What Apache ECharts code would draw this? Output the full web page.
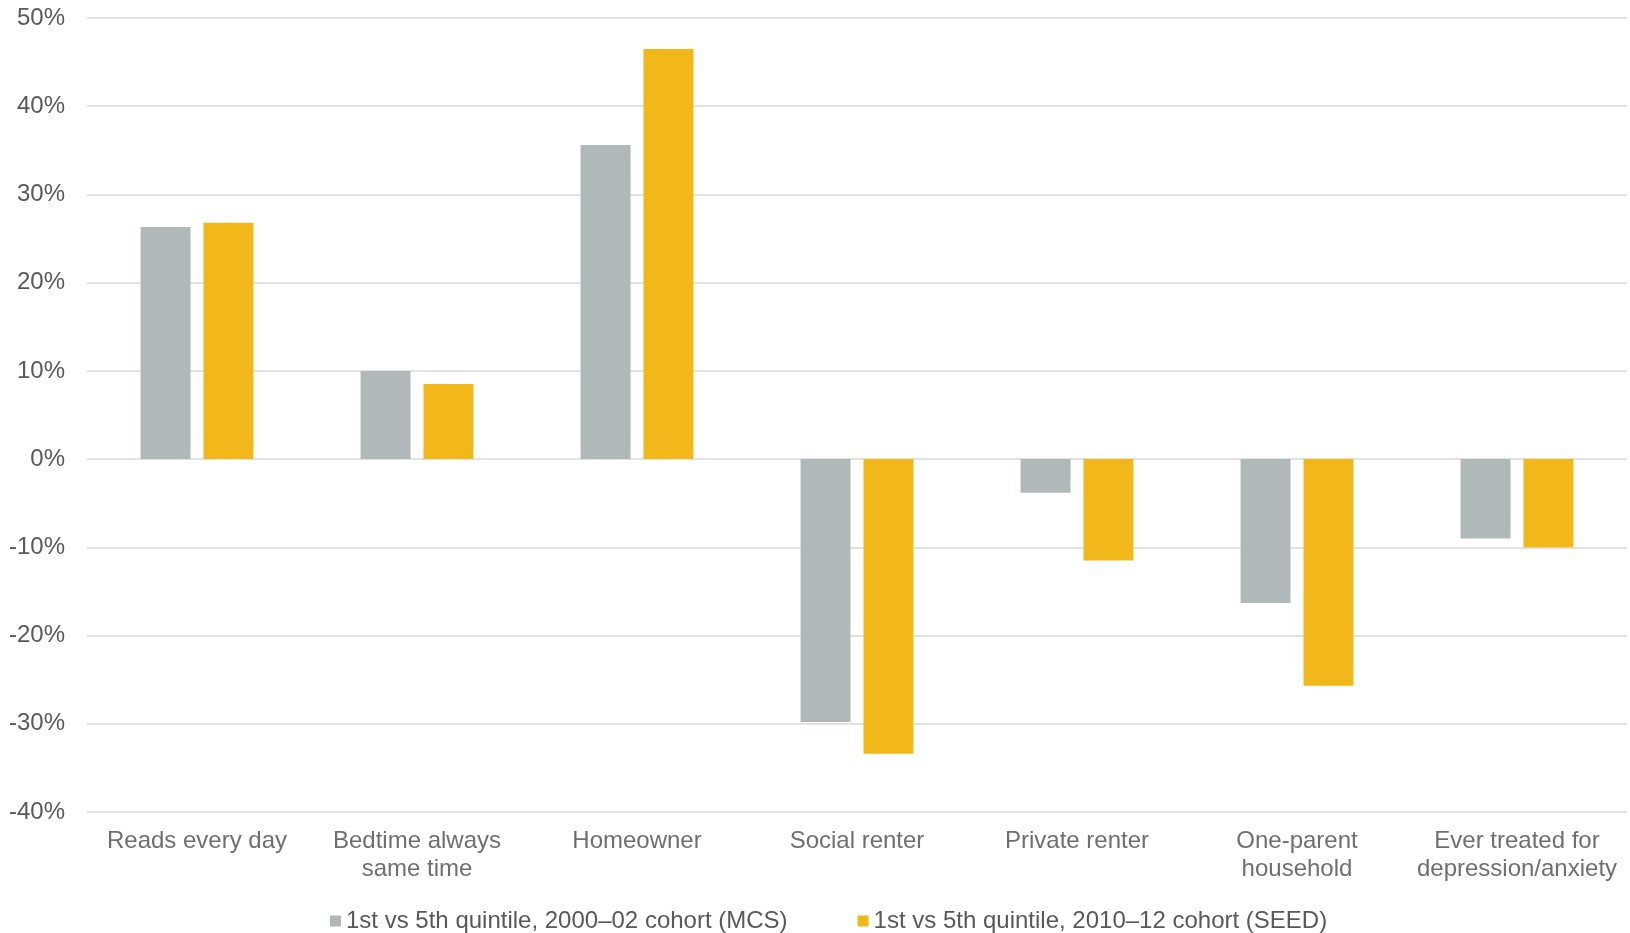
<!DOCTYPE html>
<html>
<head>
<meta charset="utf-8">
<script src="https://cdn.jsdelivr.net/npm/echarts@6/dist/echarts.min.js"></script>
<style>
    html, body { margin: 0; padding: 0; background: #fff; }
    #chart { width: 1630px; height: 933px; }
</style>
</head>
<body>
<div id="chart"></div>
<script>
// data
const categories = ['Reads every day', 'Bedtime always\nsame time', 'Homeowner', 'Social renter',
    'Private renter', 'One-parent\nhousehold', 'Ever treated for\ndepression/anxiety'];
const seriesNames = ['1st vs 5th quintile, 2000–02 cohort (MCS)', '1st vs 5th quintile, 2010–12 cohort (SEED)'];
const mcsValues = [26.3, 10.0, 35.6, -29.8, -3.8, -16.3, -9.0];
const seedValues = [26.8, 8.5, 46.5, -33.4, -11.5, -25.7, -10.0];
const yTicks = {min: -40, max: 50, step: 10};

const font = 'Liberation Sans, Arial, sans-serif';
const colors = ['#B1B8B9', '#F2B718'];

let chart = echarts.init(document.getElementById('chart'));
let option = {
    animation: false,
    color: colors,
    textStyle: {fontFamily: font},
    grid: {left: 87, right: 3, top: 18, bottom: 121, containLabel: false},
    legend: {
        top: 904,
        left: 325,
        icon: 'rect',
        itemWidth: 11,
        itemHeight: 11,
        itemGap: 70,
        textStyle: {fontSize: 24, color: '#595959', fontFamily: font},
        data: seriesNames
    },
    xAxis: {
        type: 'category',
        data: categories,
        axisLine: {show: false, onZero: false},
        axisTick: {show: false},
        axisLabel: {
            fontSize: 24,
            color: '#6f6f6f',
            fontFamily: font,
            lineHeight: 28,
            margin: 15,
            interval: 0
        }
    },
    yAxis: {
        type: 'value',
        min: yTicks.min,
        max: yTicks.max,
        interval: yTicks.step,
        axisLine: {show: false},
        axisTick: {show: false},
        axisLabel: {
            formatter: '{value}%',
            fontSize: 24,
            color: '#595959',
            fontFamily: font,
            margin: 22
        },
        splitLine: {lineStyle: {color: '#D9D9D9', width: 1.5}}
    },
    series: [
        {
            name: seriesNames[0],
            type: 'bar',
            data: mcsValues,
            barWidth: '22.7%',
            barGap: '26%'
        },
        {
            name: seriesNames[1],
            type: 'bar',
            data: seedValues,
            barWidth: '22.7%',
            barGap: '26%'
        }
    ]
};
chart.setOption(option);
window.addEventListener('resize', () => chart.resize());
</script>
</body>
</html>
